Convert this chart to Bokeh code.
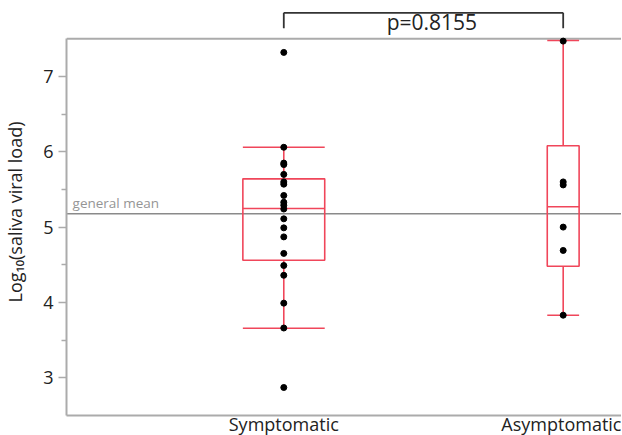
from bokeh.plotting import figure
from bokeh.models import Range1d, FixedTicker, Span, ColumnDataSource
from bokeh.core.properties import value
from bokeh.embed import file_html
from bokeh.resources import INLINE

# ---------------- data ----------------
categories = ["Symptomatic", "Asymptomatic"]
symptomatic = [7.32, 6.06, 5.85, 5.83, 5.70, 5.60, 5.57, 5.42, 5.33, 5.29,
               5.24, 5.11, 4.99, 4.87, 4.65, 4.49, 4.36, 3.99, 3.66, 2.87]
asymptomatic = [7.47, 5.60, 5.56, 5.00, 4.69, 3.83]
q1 = [4.56, 4.48]
median = [5.247, 5.27]
q3 = [5.641, 6.08]
whisker_low = [3.657, 3.83]
whisker_high = [6.061, 7.478]
general_mean = 5.177
p_label = "p=0.8155"
y_ticks = [3, 4, 5, 6, 7]
y_minor = [3.5, 4.5, 5.5, 6.5]

# ---------------- styles ----------------
FONT = "Open Sans"
RED = "#f0465a"
AXIS_GREY = "#ababab"
box_widths = [0.293, 0.114]

xpos = [i + 1 for i in range(len(categories))]

p = figure(frame_width=555, frame_height=407,
           x_range=Range1d(0.2223, 2.2087), y_range=Range1d(2.498, 7.903),
           min_border_left=58, min_border_right=0, min_border_top=8,
           min_border_bottom=18,
           output_backend="svg", toolbar_location=None)
p.outline_line_color = None
p.xgrid.visible = False
p.ygrid.visible = False
p.background_fill_color = "white"
p.border_fill_color = "white"

# general mean line + top border
p.add_layout(Span(location=general_mean, dimension="width",
                  line_color="#8a8a8a", line_width=1.6, level="underlay"))
p.add_layout(Span(location=7.5, dimension="width",
                  line_color=AXIS_GREY, line_width=2, level="underlay"))
p.text(x=[0.244], y=[general_mean + 0.145], text=["general mean"],
       text_font=value(FONT), text_font_size="13.5px", text_color="#959595",
       text_baseline="alphabetic", text_align="left")

# boxes
left = [x - w / 2 for x, w in zip(xpos, box_widths)]
right = [x + w / 2 for x, w in zip(xpos, box_widths)]
src = ColumnDataSource(dict(x=xpos, left=left, right=right, q1=q1, q3=q3,
                            med=median, lo=whisker_low, hi=whisker_high))
p.quad(left="left", right="right", bottom="q1", top="q3", source=src,
       fill_color=None, line_color=RED, line_width=1.6)
p.segment(x0="left", x1="right", y0="med", y1="med", source=src,
          line_color=RED, line_width=1.6)
p.segment(x0="x", x1="x", y0="q3", y1="hi", source=src,
          line_color=RED, line_width=1.6)
p.segment(x0="x", x1="x", y0="lo", y1="q1", source=src,
          line_color=RED, line_width=1.6)
p.segment(x0="left", x1="right", y0="hi", y1="hi", source=src,
          line_color=RED, line_width=1.6)
p.segment(x0="left", x1="right", y0="lo", y1="lo", source=src,
          line_color=RED, line_width=1.6)

# points
p.scatter(x=[xpos[0]] * len(symptomatic), y=symptomatic, size=6,
          color="black")
p.scatter(x=[xpos[1]] * len(asymptomatic), y=asymptomatic, size=6,
          color="black")

# significance bracket
br_top, br_bot = 7.846, 7.641
p.segment(x0=[xpos[0], xpos[0], xpos[1]], x1=[xpos[1], xpos[0], xpos[1]],
          y0=[br_top, br_top, br_top], y1=[br_top, br_bot, br_bot],
          line_color="#333333", line_width=1.8)
p.text(x=[1.53], y=[7.725], text=[p_label], text_font=value(FONT),
       text_font_size="21px", text_color="#222222",
       text_align="center", text_baseline="alphabetic")

# y axis
ya = p.yaxis[0]
ya.ticker = FixedTicker(ticks=y_ticks, minor_ticks=y_minor)
ya.bounds = (2.5, 7.5)
ya.axis_line_color = AXIS_GREY
ya.axis_line_width = 2
ya.major_tick_line_color = AXIS_GREY
ya.major_tick_line_width = 1.5
ya.major_tick_out = 8
ya.major_tick_in = 0
ya.minor_tick_line_color = AXIS_GREY
ya.minor_tick_line_width = 1.5
ya.minor_tick_out = 5
ya.minor_tick_in = 0
ya.major_label_text_font = FONT
ya.major_label_text_font_size = "18px"
ya.major_label_text_color = "#222222"
ya.major_label_standoff = 5
ya.axis_label = "Log\u2081\u2080(saliva viral load)"
ya.axis_label_text_font = FONT
ya.axis_label_text_font_size = "18px"
ya.axis_label_text_font_style = "normal"
ya.axis_label_text_color = "#222222"
ya.axis_label_standoff = 13

# x axis
xa = p.xaxis[0]
xa.ticker = FixedTicker(ticks=xpos)
xa.major_label_overrides = {x: c for x, c in zip(xpos, categories)}
xa.axis_line_color = AXIS_GREY
xa.axis_line_width = 2
xa.major_tick_line_color = None
xa.minor_tick_line_color = None
xa.major_tick_out = 0
xa.major_tick_in = 0
xa.major_label_standoff = -4
xa.major_label_text_font = FONT
xa.major_label_text_font_size = "18px"
xa.major_label_text_color = "#222222"

open("out.html", "w").write(file_html(p, INLINE))
